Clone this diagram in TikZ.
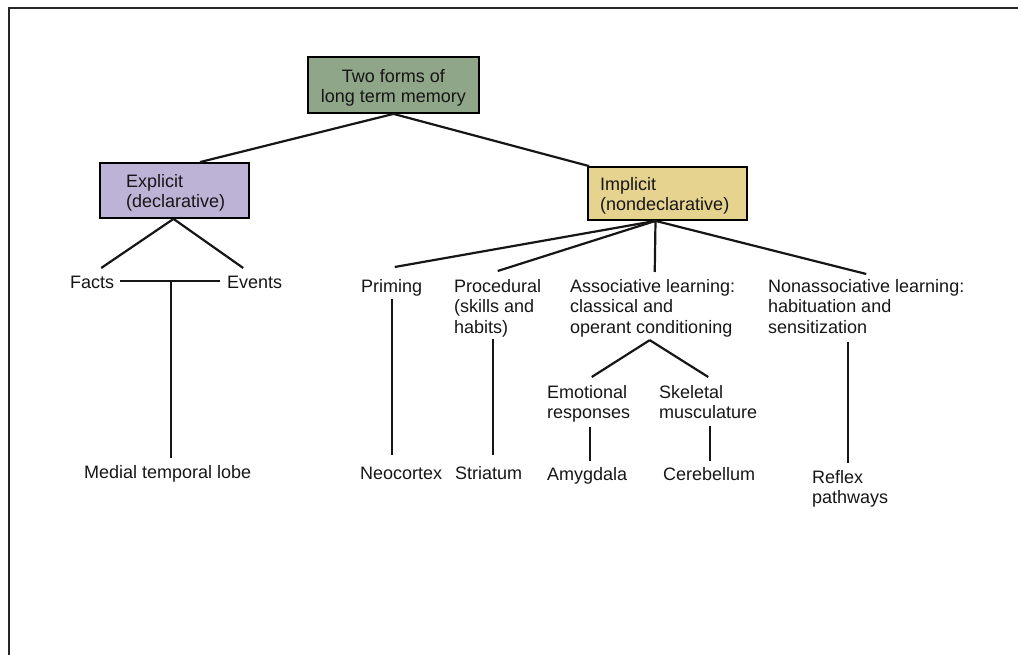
\documentclass[tikz,border=0pt]{standalone}
\usepackage{fontspec}
\setmainfont{Liberation Sans}
\usetikzlibrary{calc}
\newcommand{\labfont}{\fontsize{18}{20.5}\selectfont}
\newcommand{\st}{\rule{0pt}{14pt}}
\definecolor{rootgreen}{HTML}{90A688}
\definecolor{explcol}{HTML}{BDB3D6}
\definecolor{implcol}{HTML}{E6D390}
\definecolor{inkcol}{HTML}{161616}
\begin{document}
\begin{tikzpicture}[x=1pt,y=-1pt,
  lbl/.style={font=\labfont, align=left, inner sep=0pt, anchor=north west, yshift=14pt, text=inkcol},
  clbl/.style={lbl, align=center, anchor=north},
  boxnode/.style={draw=black, line width=1.8pt, inner sep=0pt},
  conn/.style={line width=2.2pt, draw=inkcol},
  frame/.style={line width=2.5pt, draw=black!85}
]
\useasboundingbox (0,0) rectangle (1018,655);
\draw[frame] (9,656) -- (9,8) -- (1019,8);

% boxes
\node[boxnode, fill=rootgreen, minimum width=171pt, minimum height=56pt] (root) at (393.5,85) {};
\node[clbl] (roottxt) at (393.5,82) {\st Two forms of\\long term memory};
\node[boxnode, fill=explcol, minimum width=149pt, minimum height=55pt] (expl) at (174.5,190.5) {};
\node[lbl] (expltxt) at (126,187) {\st Explicit\\(declarative)};
\node[boxnode, fill=implcol, minimum width=159pt, minimum height=53pt] (impl) at (667.5,193.5) {};
\node[lbl] (impltxt) at (600,190) {\st Implicit\\(nondeclarative)};

% labels
\node[lbl] (facts) at (70,288) {\st Facts};
\node[lbl] (events) at (227,288) {\st Events};
\node[lbl] (mtl) at (84,478) {\st Medial temporal lobe};
\node[lbl] (priming) at (361,292) {\st Priming};
\node[lbl] (proc) at (454,292) {\st Procedural\\(skills and\\habits)};
\node[lbl] (assoc) at (570,292) {\st Associative learning:\\classical and\\operant conditioning};
\node[lbl] (nonassoc) at (768,292) {\st Nonassociative learning:\\habituation and\\sensitization};
\node[lbl] (emot) at (547,398) {\st Emotional\\responses};
\node[lbl] (skel) at (659,398) {\st Skeletal\\musculature};
\node[lbl] (neo) at (360,479) {\st Neocortex};
\node[lbl] (stri) at (455,479) {\st Striatum};
\node[lbl] (amyg) at (547,480) {\st Amygdala};
\node[lbl] (cere) at (663,480) {\st Cerebellum};
\node[lbl] (reflex) at (812,483) {\st Reflex\\pathways};

% connectors from root
\draw[conn] (root.south) -- ($(expl.north)+(25.5,0)$);
\draw[conn] (root.south) -- ($(impl.north west)+(2,0)$);

% explicit branch
\coordinate (eapex) at ($(expl.south)+(-1,0)$);
\draw[conn] (eapex) -- ($(facts.north)+(9,-6)$);
\draw[conn] (eapex) -- ($(events.north)+(-11.5,-6)$);
\draw[conn] ($(facts.east)+(6,0)$) -- ($(events.west)+(-7,0)$);
\coordinate (fe) at ($(facts.east)!0.5!(events.west)$);
\draw[conn] (fe) -- ($(fe |- mtl.north)+(0,-6)$);

% implicit branch
\coordinate (iapex) at ($(impl.south)+(-12,0)$);
\draw[conn] (iapex) -- ($(priming.north)+(3,-11)$);
\draw[conn] (iapex) -- ($(proc.north)+(0,-7)$);
\draw[conn] (iapex) -- ($(assoc.north)+(2,-6)$);
\draw[conn] (iapex) -- ($(nonassoc.north)+(0,-4)$);

% verticals
\draw[conn] ($(priming.south)+(0,3)$) -- ($(priming.south |- neo.north)+(0,-10)$);
\draw[conn] ($(proc.south)+(-5,2)$) -- ($(proc.south |- stri.north)+(-5,-10)$);
\coordinate (aapex) at ($(assoc.south)+(-3,3)$);
\draw[conn] (aapex) -- ($(emot.north)+(3,-7)$);
\draw[conn] (aapex) -- ($(skel.north)+(0,-7)$);
\draw[conn] ($(emot.south)+(1.5,4)$) -- ($(emot.south |- amyg.north)+(1.5,-5)$);
\draw[conn] ($(skel.south)+(2,7)$) -- ($(skel.south |- cere.north)+(2,-5)$);
\draw[conn] ($(nonassoc.south -| reflex.north)+(-2,8)$) -- ($(reflex.north)+(-2,-6)$);
\end{tikzpicture}
\end{document}
